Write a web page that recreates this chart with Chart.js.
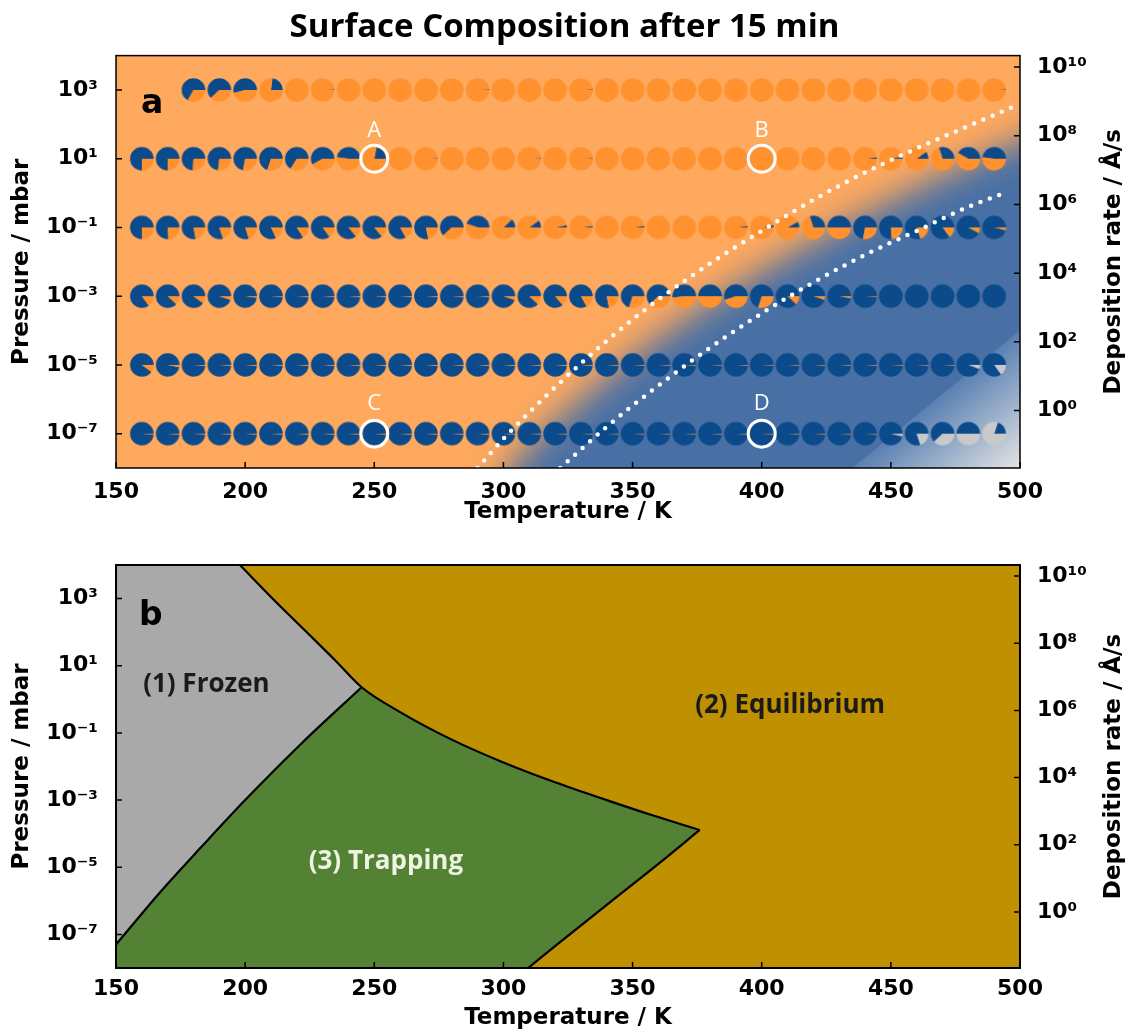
<!DOCTYPE html>
<html>
<head>
<meta charset="utf-8">
<title>Surface Composition after 15 min</title>
<script src="https://cdn.jsdelivr.net/npm/chart.js@4.4.1/dist/chart.umd.min.js"></script>
<style>
  body { margin: 0; background: #ffffff; }
  canvas { display: block; }
</style>
</head>
<body>
<canvas id="chartA" width="1129" height="530"></canvas>
<canvas id="chartB" width="1129" height="502"></canvas>
<script>
Chart.defaults.font.family = '"DejaVu Sans", sans-serif';
Chart.defaults.color = '#000';

// ---- shared axes ----
const tempTicks = [150, 200, 250, 300, 350, 400, 450, 500];
const pressureTicks = [1e-7, 1e-5, 1e-3, 1e-1, 1e1, 1e3];
const pressureTickLabels = ['10⁻⁷', '10⁻⁵', '10⁻³', '10⁻¹', '10¹', '10³'];
const rateTicks = [1e0, 1e2, 1e4, 1e6, 1e8, 1e10];
const rateTickLabels = ['10⁰', '10²', '10⁴', '10⁶', '10⁸', '10¹⁰'];

// ---- panel a: surface composition pies ----
const temps = [160, 170, 180, 190, 200, 210, 220, 230, 240, 250, 260, 270, 280, 290, 300, 310, 320,
               330, 340, 350, 360, 370, 380, 390, 400, 410, 420, 430, 440, 450, 460, 470, 480, 490];
const rowPressures = [1e3, 1e1, 1e-1, 1e-3, 1e-5, 1e-7];

// blue fraction of each pie (null = no point)
const blueAt1e3 = [null, null, 0.67, 0.62, 0.54, 0.23, 0, 0.01, 0, 0, 0, 0, 0, 0.01, 0, 0, 0,
                   0.01, 0, 0, 0, 0, 0, 0, 0, 0, 0, 0, 0, 0, 0, 0, 0, 0.01];
const blueAt1e1 = [0.75, 0.75, 0.74, 0.73, 0.72, 0.70, 0.66, 0.58, 0.48, 0.22, 0, 0.01, 0, 0, 0, 0.01, 0,
                   0.01, 0, 0, 0, 0, 0, 0, 0, 0, 0, 0, 0.02, 0.03, 0.10, 0.30, 0.42, 0.48];
const blueAt1em1 = [0.75, 0.76, 0.78, 0.80, 0.80, 0.82, 0.84, 0.85, 0.86, 0.86, 0.83, 0.78, 0.62, 0.45, 0.12, 0.10, 0.03,
                    0.02, 0, 0.02, 0, 0, 0, 0.02, 0.03, 0.08, 0.30, 0.50, 0.72, 0.76, 0.80, 0.85, 0.92, 0.96];
const blueAt1em3 = [0.85, 0.88, 0.90, 0.95, 0.98, 0.99, 0.99, 0.99, 0.99, 0.99, 0.99, 0.99, 0.99, 0.99, 0.95, 0.88, 0.86,
                    0.83, 0.78, 0.70, 0.62, 0.52, 0.50, 0.55, 0.70, 0.88, 0.95, 0.97, 0.99, 1, 1, 1, 1, 1];
const blueAt1em5 = [0.90, 0.97, 0.99, 0.99, 0.99, 0.99, 0.99, 0.99, 0.99, 0.99, 0.99, 0.99, 0.99, 0.99, 0.99, 0.99, 0.99,
                    0.99, 0.99, 0.99, 0.99, 0.99, 0.99, 0.99, 0.99, 0.99, 0.99, 0.99, 0.99, 0.99, 0.99, 0.99, 0.94, 0.85];
const blueAt1em7 = [0.99, 0.99, 0.99, 0.99, 0.99, 0.99, 0.99, 0.99, 0.99, 0.99, 0.99, 0.99, 0.99, 0.99, 0.99, 0.99, 0.99,
                    0.99, 0.99, 0.99, 0.99, 0.99, 0.99, 0.99, 0.99, 0.99, 0.99, 0.99, 0.99, 0.96, 0.80, 0.62, 0.50, 0.20];
// grey fraction (only the two lowest pressures have any)
const greyAt1em5 = [0, 0, 0, 0, 0, 0, 0, 0, 0, 0, 0, 0, 0, 0, 0, 0, 0,
                    0, 0, 0, 0, 0, 0, 0, 0, 0, 0, 0, 0, 0, 0, 0, 0.05, 0.15];
const greyAt1em7 = [0, 0, 0, 0, 0, 0, 0, 0, 0, 0, 0, 0, 0, 0, 0, 0, 0,
                    0, 0, 0, 0, 0, 0, 0, 0, 0, 0, 0, 0, 0.03, 0.20, 0.38, 0.50, 0.80];
const blueRows = [blueAt1e3, blueAt1e1, blueAt1em1, blueAt1em3, blueAt1em5, blueAt1em7];
const greyRows = [null, null, null, null, greyAt1em5, greyAt1em7];

// marked conditions A-D
const markT = [250, 400, 250, 400];
const markP = [1e1, 1e1, 1e-7, 1e-7];
const markLabels = ['A', 'B', 'C', 'D'];
const markLabelLogP = [1.64, 1.64, -6.31, -6.31];

// white dotted guide lines (log10 pressure)
const upperDotT = [290, 300, 320, 340, 360, 380, 400, 420, 440, 460, 480, 497];
const upperDotLogP = [-8.0, -7.15, -5.65, -4.3, -3.1, -2.05, -1.1, -0.2, 0.6, 1.3, 1.95, 2.5];
const lowerDotT = [322, 340, 360, 380, 400, 420, 440, 460, 480, 494];
const lowerDotLogP = [-8.0, -6.8, -5.6, -4.5, -3.5, -2.6, -1.8, -1.1, -0.4, 0.0];

// background shading: middle of orange->blue fade, and the pale corner edge
const blueEdgeT = [300, 315, 330, 346, 364, 384, 406, 430, 456, 484, 515];
const blueEdgeLogP = [-8.2, -7, -6, -5, -4, -3, -2, -1, 0, 1, 2];
const paleEdgeT = [435, 500];
const paleEdgeLogP = [-8, -4];

// ---- panel b: regime map boundaries (log10 pressure) ----
// equilibrium boundary: frozen/equilibrium, triple point, then trapping/equilibrium
const equilT = [198, 210, 222.5, 235, 245.1, 260, 280, 300, 320, 340, 358, 376];
const equilLogP = [4.0, 3.05, 2.1, 1.15, 0.36, -0.38, -1.2, -1.88, -2.47, -3.0, -3.46, -3.89];
const frozenTrapT = [150, 167, 183, 200, 222, 245.1];
const frozenTrapLogP = [-7.3, -5.75, -4.4, -3.0, -1.3, 0.36];
const trapEqLowerT = [309.6, 320, 340, 360, 376];
const trapEqLowerLogP = [-8, -7.35, -6.12, -4.9, -3.89];
// gold fill under the lower boundary runs on past the tip (gold on gold there)
const lowerFillExtT = 400;
const lowerFillExtLogP = -2.38;

const regionLabels = ['(1) Frozen', '(2) Equilibrium', '(3) Trapping'];
const regionLabelT = [185, 411, 254.5];
const regionLabelLogP = [0.43, -0.2, -4.84];

// colours
const PIE_BLUE = '#0b4a8b', PIE_ORANGE = '#ff912e', PIE_GREY = '#c9c9c9';
const BG_ORANGE = '#ffa95e', BG_BLUE = '#4870a5';
const FROZEN = '#a9a9a9', TRAP = '#548235', EQUIL = '#bf9000';

const toPts = (ts, lps) => ts.map((t, i) => ({ x: t, y: Math.pow(10, lps[i]) }));

// pie marker images
const pieCache = new Map();
function pieCanvas(b, g) {
  const key = b + '|' + g;
  if (pieCache.has(key)) return pieCache.get(key);
  const s = 26, c = s / 2, r = 11.8;
  const cv = document.createElement('canvas');
  cv.width = s; cv.height = s;
  const cx = cv.getContext('2d');
  const o = Math.max(0, 1 - b - g);
  let a0 = 0;
  [[b, PIE_BLUE], [o, PIE_ORANGE], [g, PIE_GREY]].forEach(([f, col]) => {
    if (f <= 0) return;
    const a1 = a0 - f * 2 * Math.PI;   // counter-clockwise from 3 o'clock
    cx.beginPath();
    cx.moveTo(c, c);
    cx.arc(c, c, r, a0, a1, true);
    cx.closePath();
    cx.fillStyle = col;
    cx.fill();
    a0 = a1;
  });
  pieCache.set(key, cv);
  return cv;
}

// axes shared by both panels
function makeScales(xHeight, labelPad, titlePadBottom) {
  const tickFont = { size: 22, weight: 'bold' };
  const titleFont = { size: 23, weight: 'bold' };
  return {
    x: {
      type: 'linear', min: 150, max: 500,
      afterBuildTicks: s => { s.ticks = tempTicks.map(v => ({ value: v })); },
      ticks: { font: tickFont, color: '#000', padding: labelPad, maxRotation: 0, autoSkip: false },
      grid: { display: false }, border: { display: false },
      title: { display: true, text: 'Temperature / K', font: titleFont, color: '#000',
               padding: { top: 0, bottom: titlePadBottom } },
      afterFit: s => { s.height = xHeight; }
    },
    y: {
      type: 'logarithmic', position: 'left', min: 1e-8, max: 1e4,
      afterBuildTicks: s => { s.ticks = pressureTicks.map(v => ({ value: v })); },
      ticks: { font: tickFont, color: '#000', padding: 10, autoSkip: false,
               callback: (v, i) => pressureTickLabels[i] },
      grid: { display: false }, border: { display: false },
      title: { display: true, text: 'Pressure / mbar', font: titleFont, color: '#000',
               padding: { top: 8, bottom: 0 } },
      afterFit: s => { s.width = 116; }
    },
    y2: {
      type: 'logarithmic', position: 'right', min: Math.pow(10, -1.67), max: Math.pow(10, 10.33),
      afterBuildTicks: s => { s.ticks = rateTicks.map(v => ({ value: v })); },
      ticks: { font: tickFont, color: '#000', padding: 9, autoSkip: false,
               callback: (v, i) => rateTickLabels[i] },
      grid: { display: false }, border: { display: false },
      afterFit: s => { s.width = 109; }
    }
  };
}

// frame, inward ticks and right-hand axis title
const frameTicks = {
  id: 'frameTicks',
  afterDraw(chart, args, opts) {
    const { ctx, chartArea: a, scales } = chart;
    ctx.save();
    ctx.strokeStyle = '#000';
    ctx.lineWidth = 1.5;
    ctx.beginPath();
    tempTicks.forEach(v => {
      const px = scales.x.getPixelForValue(v);
      ctx.moveTo(px, a.bottom); ctx.lineTo(px, a.bottom - 6);
    });
    pressureTicks.forEach(v => {
      const py = scales.y.getPixelForValue(v);
      ctx.moveTo(a.left, py); ctx.lineTo(a.left + 6, py);
    });
    rateTicks.forEach(v => {
      const py = scales.y2.getPixelForValue(v);
      ctx.moveTo(a.right, py); ctx.lineTo(a.right - 6, py);
    });
    ctx.stroke();
    ctx.lineWidth = opts.width || 1.5;
    ctx.strokeRect(a.left, a.top, a.width, a.height);
    ctx.translate(1114, (a.top + a.bottom) / 2);
    ctx.rotate(-Math.PI / 2);
    ctx.font = 'bold 23px "DejaVu Sans"';
    ctx.fillStyle = '#000';
    ctx.textAlign = 'center';
    ctx.textBaseline = 'middle';
    ctx.fillText('Deposition rate / Å/s', 0, 0);
    ctx.restore();
  }
};

// panel a background: orange field, blurred blue region, pale corner
const backgroundA = {
  id: 'backgroundA',
  beforeDatasetsDraw(chart) {
    const { ctx, chartArea: a, scales: { x, y } } = chart;
    ctx.save();
    ctx.beginPath();
    ctx.rect(a.left, a.top, a.width, a.height);
    ctx.clip();
    ctx.fillStyle = BG_ORANGE;
    ctx.fillRect(a.left, a.top, a.width, a.height);

    const pts = blueEdgeT.map((t, i) => [x.getPixelForValue(t), y.getPixelForValue(Math.pow(10, blueEdgeLogP[i]))]);
    const last = pts[pts.length - 1];
    ctx.filter = 'blur(17px)';
    ctx.beginPath();
    ctx.moveTo(pts[0][0], a.bottom + 300);
    pts.forEach(p => ctx.lineTo(p[0], p[1]));
    ctx.lineTo(a.right + 300, last[1]);
    ctx.lineTo(a.right + 300, a.bottom + 300);
    ctx.closePath();
    ctx.fillStyle = BG_BLUE;
    ctx.fill();
    ctx.filter = 'none';

    const p0 = [x.getPixelForValue(paleEdgeT[0]), y.getPixelForValue(Math.pow(10, paleEdgeLogP[0]))];
    const p1 = [x.getPixelForValue(paleEdgeT[1]), y.getPixelForValue(Math.pow(10, paleEdgeLogP[1]))];
    let nx = p1[1] - p0[1], ny = p0[0] - p1[0];
    const len = Math.hypot(nx, ny);
    nx = -nx / len; ny = -ny / len;
    const dist = (a.right - p0[0]) * nx + (a.bottom - p0[1]) * ny;
    const mx = (p0[0] + p1[0]) / 2, my = (p0[1] + p1[1]) / 2;
    const grad = ctx.createLinearGradient(mx, my, mx + nx * dist, my + ny * dist);
    grad.addColorStop(0, '#5a80b2');
    grad.addColorStop(1, '#e4e4e4');
    ctx.beginPath();
    ctx.moveTo(p0[0], a.bottom + 20);
    ctx.lineTo(p0[0], p0[1]);
    ctx.lineTo(p1[0], p1[1]);
    ctx.lineTo(a.right + 20, p1[1]);
    ctx.lineTo(a.right + 20, a.bottom + 20);
    ctx.closePath();
    ctx.fillStyle = grad;
    ctx.fill();
    ctx.restore();
  }
};

const labelsA = {
  id: 'labelsA',
  afterDatasetsDraw(chart) {
    const { ctx, scales: { x, y } } = chart;
    ctx.save();
    ctx.textAlign = 'center';
    ctx.textBaseline = 'alphabetic';
    ctx.fillStyle = '#000';
    ctx.font = 'bold 33px "DejaVu Sans"';
    ctx.fillText('a', x.getPixelForValue(164), y.getPixelForValue(Math.pow(10, 2.34)));
    ctx.fillStyle = '#ffffff';
    ctx.font = '22px "Open Sans"';
    markLabels.forEach((s, i) => {
      ctx.fillText(s, x.getPixelForValue(markT[i]), y.getPixelForValue(Math.pow(10, markLabelLogP[i])));
    });
    ctx.restore();
  }
};

const pieDatasets = rowPressures.map((p, r) => ({
  label: 'P = ' + p + ' mbar',
  data: temps.map((t, i) => blueRows[r][i] === null ? null
    : { x: t, y: p, b: blueRows[r][i], g: greyRows[r] ? greyRows[r][i] : 0 }).filter(d => d),
  pointStyle: ctx => ctx.raw ? pieCanvas(ctx.raw.b, ctx.raw.g) : 'circle',
  pointRadius: 12,
  showLine: false,
  order: 5
}));

new Chart(document.getElementById('chartA'), {
  type: 'scatter',
  data: {
    datasets: [
      {
        label: 'upper guide', data: toPts(upperDotT, upperDotLogP), showLine: true,
        borderColor: '#ffffff', borderWidth: 4.5, borderDash: [0, 10], borderCapStyle: 'round',
        cubicInterpolationMode: 'monotone', pointRadius: 0, order: 2
      },
      {
        label: 'lower guide', data: toPts(lowerDotT, lowerDotLogP), showLine: true,
        borderColor: '#ffffff', borderWidth: 4.5, borderDash: [0, 10], borderCapStyle: 'round',
        cubicInterpolationMode: 'monotone', pointRadius: 0, order: 2
      },
      {
        label: 'marked', data: markT.map((t, i) => ({ x: t, y: markP[i] })),
        pointStyle: 'circle', pointRadius: 13.5, pointBorderWidth: 3,
        pointBorderColor: '#ffffff', pointBackgroundColor: 'rgba(0,0,0,0)', order: 1
      },
      ...pieDatasets
    ]
  },
  options: {
    responsive: false,
    animation: false,
    layout: { padding: 0 },
    scales: makeScales(62, 3, 4),
    plugins: {
      legend: { display: false },
      tooltip: { enabled: false },
      title: {
        display: true, text: 'Surface Composition after 15 min', color: '#000',
        font: { family: '"Open Sans"', size: 33, weight: 'bold' },
        padding: { top: 8, bottom: 8 }
      },
      frameTicks: { width: 1.5 }
    }
  },
  plugins: [backgroundA, labelsA, frameTicks]
});

// ---- panel b ----
const backgroundB = {
  id: 'backgroundB',
  beforeDraw(chart) {
    const { ctx, chartArea: a } = chart;
    ctx.save();
    ctx.fillStyle = EQUIL;
    ctx.fillRect(a.left, a.top, a.width, a.height);
    ctx.restore();
  }
};

const labelsB = {
  id: 'labelsB',
  afterDatasetsDraw(chart) {
    const { ctx, scales: { x, y } } = chart;
    ctx.save();
    ctx.textAlign = 'center';
    ctx.textBaseline = 'alphabetic';
    ctx.fillStyle = '#000';
    ctx.font = 'bold 33px "DejaVu Sans"';
    ctx.fillText('b', x.getPixelForValue(163.5), y.getPixelForValue(Math.pow(10, 2.21)));
    ctx.textBaseline = 'middle';
    ctx.font = 'bold 26px "Open Sans"';
    regionLabels.forEach((s, i) => {
      ctx.fillStyle = i === 2 ? '#eef4e2' : '#1a1a1a';
      ctx.fillText(s, x.getPixelForValue(regionLabelT[i]), y.getPixelForValue(Math.pow(10, regionLabelLogP[i])));
    });
    ctx.restore();
  }
};

const curve = { pointRadius: 0, showLine: true, cubicInterpolationMode: 'monotone', borderColor: '#000' };
const lowerFill = toPts(trapEqLowerT, trapEqLowerLogP).concat([{ x: lowerFillExtT, y: Math.pow(10, lowerFillExtLogP) }]);

new Chart(document.getElementById('chartB'), {
  type: 'scatter',
  data: {
    datasets: [
      // fills, bottom layer has the highest order
      { label: 'trapping under equilibrium line', data: toPts(equilT, equilLogP), ...curve,
        borderWidth: 0, fill: 'start', backgroundColor: TRAP, order: 6 },
      { label: 'trapping under frozen line', data: toPts(frozenTrapT, frozenTrapLogP), ...curve,
        borderWidth: 0, fill: 'start', backgroundColor: TRAP, order: 5 },
      { label: 'frozen', data: toPts(frozenTrapT, frozenTrapLogP), ...curve,
        borderWidth: 2.2, fill: 'end', backgroundColor: FROZEN, order: 4 },
      { label: 'equilibrium', data: toPts(equilT, equilLogP), ...curve,
        borderWidth: 2.2, fill: 'end', backgroundColor: EQUIL, order: 3 },
      { label: 'equilibrium below trapping', data: lowerFill, ...curve,
        borderWidth: 0, fill: 'start', backgroundColor: EQUIL, order: 2 },
      { label: 'trapping / equilibrium lower', data: toPts(trapEqLowerT, trapEqLowerLogP), ...curve,
        borderWidth: 2.2, fill: false, order: 1 }
    ]
  },
  options: {
    responsive: false,
    animation: false,
    layout: { padding: { top: 35 } },
    scales: makeScales(64, 0, 0),
    plugins: {
      legend: { display: false },
      tooltip: { enabled: false },
      filler: { drawTime: 'beforeDatasetsDraw' },
      frameTicks: { width: 2 }
    }
  },
  plugins: [backgroundB, labelsB, frameTicks]
});
</script>
</body>
</html>
